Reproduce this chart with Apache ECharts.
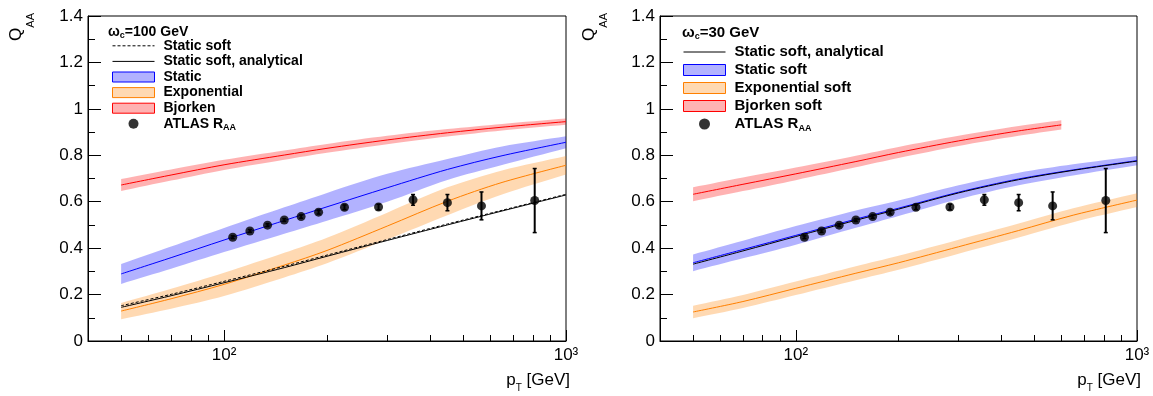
<!DOCTYPE html>
<html><head><meta charset="utf-8">
<script src="https://cdn.jsdelivr.net/npm/echarts@6/dist/echarts.min.js"></script>
<style>html,body{margin:0;padding:0;background:#fff}#c{width:1153px;height:396px}</style>
</head><body><div id="c"></div>
<script>
// ---------- data ----------
const ptGrid = [50, 70, 100, 150, 200, 300, 450, 650, 1000];
const ptGridBjSoft = [50, 70, 100, 150, 200, 300, 450, 600];

// left panel: omega_c = 100 GeV
const leftBjorkenMid = [0.672, 0.715, 0.759, 0.801, 0.830, 0.866, 0.897, 0.921, 0.945];
const leftBjorkenLo  = [0.646, 0.691, 0.737, 0.781, 0.811, 0.848, 0.881, 0.907, 0.932];
const leftBjorkenHi  = [0.698, 0.739, 0.781, 0.821, 0.849, 0.884, 0.913, 0.935, 0.958];
const leftStaticMid  = [0.289, 0.359, 0.435, 0.519, 0.578, 0.660, 0.739, 0.798, 0.856];
const leftStaticLo   = [0.246, 0.311, 0.383, 0.462, 0.518, 0.600, 0.694, 0.758, 0.830];
const leftStaticHi   = [0.332, 0.407, 0.487, 0.576, 0.638, 0.720, 0.784, 0.838, 0.882];
const leftExpMid     = [0.129, 0.182, 0.244, 0.327, 0.390, 0.495, 0.602, 0.683, 0.757];
const leftExpLo      = [0.094, 0.139, 0.194, 0.274, 0.335, 0.437, 0.542, 0.631, 0.717];
const leftExpHi      = [0.164, 0.225, 0.294, 0.380, 0.445, 0.553, 0.662, 0.735, 0.797];
const leftStaticSoft = [0.152, 0.201, 0.257, 0.322, 0.370, 0.437, 0.504, 0.563, 0.632];
const leftStaticSoftAnalytical = [0.145, 0.195, 0.251, 0.316, 0.365, 0.433, 0.500, 0.560, 0.629];

// right panel: omega_c = 30 GeV
const rightBjorkenMid = [0.632, 0.675, 0.720, 0.773, 0.812, 0.862, 0.905, 0.931];
const rightBjorkenLo  = [0.602, 0.646, 0.693, 0.748, 0.788, 0.840, 0.884, 0.911];
const rightBjorkenHi  = [0.662, 0.704, 0.747, 0.798, 0.836, 0.884, 0.926, 0.951];
const rightStaticMid  = [0.337, 0.394, 0.455, 0.525, 0.572, 0.641, 0.698, 0.737, 0.777];
const rightStaticLo   = [0.301, 0.356, 0.415, 0.488, 0.539, 0.611, 0.671, 0.713, 0.757];
const rightStaticHi   = [0.373, 0.432, 0.495, 0.562, 0.605, 0.671, 0.725, 0.761, 0.797];
const rightExpMid     = [0.125, 0.170, 0.227, 0.292, 0.337, 0.406, 0.476, 0.542, 0.607];
const rightExpLo      = [0.098, 0.142, 0.198, 0.262, 0.307, 0.376, 0.446, 0.512, 0.577];
const rightExpHi      = [0.152, 0.198, 0.256, 0.322, 0.367, 0.436, 0.506, 0.572, 0.637];
const rightStaticSoftAnalytical = [0.331, 0.388, 0.450, 0.520, 0.568, 0.638, 0.695, 0.735, 0.775];

// ATLAS R_AA
const atlasPt  = [106, 119, 134, 150, 168, 189, 225, 283, 357, 450, 566, 810];
const atlasRaa = [0.447, 0.474, 0.499, 0.521, 0.536, 0.555, 0.576, 0.577, 0.608, 0.596, 0.582, 0.605];
const atlasErr = [0.006, 0.006, 0.006, 0.006, 0.007, 0.008, 0.010, 0.012, 0.023, 0.035, 0.060, 0.138];

// axes
const xMajorTicks = [100, 1000];
const xMajorLabels = ['10²', '10³'];
const xMinorTicks = [50, 60, 70, 80, 90, 200, 300, 400, 500, 600, 700, 800, 900];

// ---------- styles ----------
const FONT = 'Liberation Sans, Arial, Helvetica, sans-serif';
const BLUE = '#0000ff', BLUE_F = 'rgba(0,0,255,0.3)';
const ORANGE = '#ff8000', ORANGE_F = 'rgba(255,128,0,0.3)';
const RED = '#ff0000', RED_F = 'rgba(255,0,0,0.3)';
const SMOOTH = 0.3;

const pairs = (xs, ys) => xs.map((x, i) => [x, ys[i]]);

// filled uncertainty band: one polygon through the axis scales
function band(name, xs, lo, hi, fill, xi, yi) {
  return { type: 'custom', name: name, xAxisIndex: xi, yAxisIndex: yi, silent: true, z: 1,
    data: xs.map((x, i) => [x, lo[i], hi[i]]),
    encode: { x: 0, y: [1, 2] },
    itemStyle: { color: fill },
    renderItem: (params, api) => {
      if (params.dataIndexInside !== 0) return null;
      const n = params.dataInsideLength;
      const up = [], dn = [];
      for (let i = 0; i < n; i++) {
        up.push(api.coord([api.value(0, i), api.value(2, i)]));
        dn.push(api.coord([api.value(0, i), api.value(1, i)]));
      }
      dn.reverse();
      // duplicate the corner points so the band ends stay straight cuts
      const pts = [up[0]].concat(up, [up[n - 1]], [dn[0]], dn, [dn[n - 1]]);
      return { type: 'polygon', shape: { points: pts, smooth: SMOOTH }, style: { fill: fill, stroke: null } };
    } };
}
function curve(name, xs, ys, color, xi, yi, dashed, z) {
  return { type: 'line', name: name, xAxisIndex: xi, yAxisIndex: yi, data: pairs(xs, ys),
    symbol: 'none', smooth: SMOOTH, itemStyle: { color: color },
    lineStyle: { color: color, width: 1, type: dashed ? [3, 2] : 'solid' }, silent: true, z: z || 2 };
}
function atlas(name, xi, yi) {
  return [
    { type: 'custom', name: name + '__err', xAxisIndex: xi, yAxisIndex: yi, silent: true, z: 4,
      data: atlasPt.map((x, i) => [x, atlasRaa[i] - atlasErr[i], atlasRaa[i] + atlasErr[i]]),
      encode: { x: 0, y: [1, 2] },
      renderItem: (params, api) => {
        const a = api.coord([api.value(0), api.value(1)]);
        const b = api.coord([api.value(0), api.value(2)]);
        const c = 2;
        return { type: 'group', children: [
          { type: 'line', shape: { x1: a[0], y1: a[1], x2: b[0], y2: b[1] }, style: { stroke: '#000', lineWidth: 2 } },
          { type: 'line', shape: { x1: a[0] - c, y1: a[1], x2: a[0] + c, y2: a[1] }, style: { stroke: '#000', lineWidth: 1.5 } },
          { type: 'line', shape: { x1: b[0] - c, y1: b[1], x2: b[0] + c, y2: b[1] }, style: { stroke: '#000', lineWidth: 1.5 } }
        ] };
      } },
    { type: 'scatter', name: name, xAxisIndex: xi, yAxisIndex: yi, data: pairs(atlasPt, atlasRaa),
      symbol: 'circle', symbolSize: 9, itemStyle: { color: '#000' }, silent: true, z: 5 }
  ];
}

function xAxes(g) {
  return [
    { type: 'log', logBase: 10, gridIndex: g, min: 40, max: 1000,
      axisLine: { show: true, onZero: false, lineStyle: { color: '#000', width: 1 } },
      axisTick: { show: true, inside: true, length: 11, customValues: xMajorTicks, lineStyle: { color: '#000', width: 1 } },
      minorTick: { show: false }, splitLine: { show: false }, minorSplitLine: { show: false },
      axisLabel: { show: true, customValues: xMajorTicks, margin: 6, fontSize: 17, fontFamily: FONT, color: '#000',
        formatter: v => { let k = 0, best = Infinity; xMajorTicks.forEach((t, i) => { const d = Math.abs(Math.log10(t) - Math.log10(v)); if (d < best) { best = d; k = i; } }); return xMajorLabels[k]; } } },
    { type: 'log', logBase: 10, gridIndex: g, min: 40, max: 1000, position: 'bottom',
      axisLine: { show: false, onZero: false },
      axisTick: { show: true, inside: true, length: 6, customValues: xMinorTicks, lineStyle: { color: '#000', width: 1 } },
      minorTick: { show: false }, splitLine: { show: false }, axisLabel: { show: false } }
  ];
}
function yAxis(g) {
  return { type: 'value', gridIndex: g, min: 0, max: 1.4, interval: 0.2,
    axisLine: { show: true, onZero: false, lineStyle: { color: '#000', width: 1 } },
    axisTick: { show: true, inside: true, length: 13, lineStyle: { color: '#000', width: 1 } },
    minorTick: { show: true, splitNumber: 2, length: 7, lineStyle: { color: '#000', width: 1 } },
    splitLine: { show: false }, minorSplitLine: { show: false },
    axisLabel: { show: true, margin: 5, fontSize: 17, fontFamily: FONT, color: '#000' } };
}

const legendFmt = n => {
  n = n.replace(' (R)', '');
  if (n === 'ATLAS R_AA') return 'ATLAS R{s|AA}';
  return n;
};
function legend(left, top, fs, lh, ih, items) {
  return { show: true, orient: 'vertical', left: left, top: top, padding: 0, itemGap: 0,
    itemWidth: 42, itemHeight: ih, selectedMode: false, formatter: legendFmt,
    textStyle: { fontFamily: FONT, fontWeight: 'bold', fontSize: fs, color: '#000', lineHeight: lh,
      padding: [0, 0, 0, 4],
      rich: { s: { fontFamily: FONT, fontWeight: 'bold', fontSize: Math.round(fs * 0.62), color: '#000', padding: [Math.round(fs * 0.6), 0, 0, 0] } } },
    data: items };
}
const boxItem = (name, fill, stroke) => ({ name: name, icon: 'rect', itemStyle: { color: fill, borderColor: stroke, borderWidth: 1 } });
const lineItem = (name, dashed) => ({ name: name,
  itemStyle: { color: 'rgba(0,0,0,0)', borderWidth: 0, opacity: 0 },
  lineStyle: { color: '#000', width: 1, type: dashed ? [3, 2] : 'solid', opacity: 1 } });

const series = [].concat(
  [band('Bjorken', ptGrid, leftBjorkenLo, leftBjorkenHi, RED_F, 0, 0),
   band('Static', ptGrid, leftStaticLo, leftStaticHi, BLUE_F, 0, 0),
   band('Exponential', ptGrid, leftExpLo, leftExpHi, ORANGE_F, 0, 0),
   curve('Bjorken line', ptGrid, leftBjorkenMid, RED, 0, 0),
   curve('Static line', ptGrid, leftStaticMid, BLUE, 0, 0),
   curve('Exponential line', ptGrid, leftExpMid, ORANGE, 0, 0),
   curve('Static soft', ptGrid, leftStaticSoft, '#000', 0, 0, true, 3),
   curve('Static soft, analytical', ptGrid, leftStaticSoftAnalytical, '#000', 0, 0, false, 3)],
  atlas('ATLAS R_AA', 0, 0),

  [band('Bjorken soft', ptGridBjSoft, rightBjorkenLo, rightBjorkenHi, RED_F, 2, 1),
   band('Static soft (R)', ptGrid, rightStaticLo, rightStaticHi, BLUE_F, 2, 1),
   band('Exponential soft', ptGrid, rightExpLo, rightExpHi, ORANGE_F, 2, 1),
   curve('Bjorken soft line', ptGridBjSoft, rightBjorkenMid, RED, 2, 1),
   curve('Static soft line (R)', ptGrid, rightStaticMid, BLUE, 2, 1),
   curve('Exponential soft line', ptGrid, rightExpMid, ORANGE, 2, 1),
   curve('Static soft, analytical (R)', ptGrid, rightStaticSoftAnalytical, '#000', 2, 1, false, 3)],
  atlas('ATLAS R_AA (R)', 2, 1)
);

const gridBase = { show: true, borderColor: '#000', borderWidth: 1, backgroundColor: 'transparent', containLabel: false, outerBoundsMode: 'none' };

const titleRich = fs => ({ c: { fontFamily: FONT, fontWeight: 'bold', fontSize: Math.round(fs * 0.62), color: '#000', padding: [Math.round(fs * 0.45), 0, 0, 0] } });

const axisTitle = (x, y, rot, text, rich, align) => ({ type: 'text', x: x, y: y, rotation: rot, silent: true,
  style: { text: text, align: align, verticalAlign: 'top', rich: rich } });
const qRich = { q: { fontFamily: FONT, fontSize: 17, fill: '#000', verticalAlign: 'top' },
                s: { fontFamily: FONT, fontSize: 11, fill: '#000', verticalAlign: 'top', padding: [17, 0, 0, 0] } };
const pRich = { p: { fontFamily: FONT, fontSize: 17, fill: '#000', verticalAlign: 'top' },
                s: { fontFamily: FONT, fontSize: 10, fill: '#000', verticalAlign: 'top', padding: [11, 0, 0, 0] } };

const option = {
  animation: false,
  backgroundColor: '#fff',
  grid: [
    Object.assign({ left: 88, top: 16, width: 478, height: 325 }, gridBase),
    Object.assign({ left: 660, top: 16, width: 477, height: 325 }, gridBase)
  ],
  xAxis: [].concat(xAxes(0), xAxes(1)),
  yAxis: [yAxis(0), yAxis(1)],
  title: [
    { text: 'ω{c|c}=100 GeV', left: 108, top: 25, padding: 0,
      textStyle: { fontFamily: FONT, fontWeight: 'bold', fontSize: 14, color: '#000', rich: titleRich(14) } },
    { text: 'ω{c|c}=30 GeV', left: 682, top: 25, padding: 0,
      textStyle: { fontFamily: FONT, fontWeight: 'bold', fontSize: 15, color: '#000', rich: titleRich(15) } }
  ],
  legend: [
    legend(112, 38, 14, 15.6, 10, [
      lineItem('Static soft', true),
      lineItem('Static soft, analytical', false),
      boxItem('Static', BLUE_F, BLUE),
      boxItem('Exponential', ORANGE_F, ORANGE),
      boxItem('Bjorken', RED_F, RED),
      { name: 'ATLAS R_AA', icon: 'circle' }
    ]),
    legend(683, 43, 15, 18, 11, [
      lineItem('Static soft, analytical (R)', false),
      boxItem('Static soft (R)', BLUE_F, BLUE),
      boxItem('Exponential soft', ORANGE_F, ORANGE),
      boxItem('Bjorken soft', RED_F, RED),
      { name: 'ATLAS R_AA (R)', icon: 'circle' }
    ])
  ],
  graphic: [
    axisTitle(8, 13, Math.PI / 2, '{q|Q}{s|AA}', qRich, 'right'),
    axisTitle(581, 13, Math.PI / 2, '{q|Q}{s|AA}', qRich, 'right'),
    axisTitle(570, 372, 0, '{p|p}{s|T}{p| [GeV]}', pRich, 'right'),
    axisTitle(1141, 372, 0, '{p|p}{s|T}{p| [GeV]}', pRich, 'right')
  ],
  series: series
};

const chart = echarts.init(document.getElementById('c'), null, { renderer: 'canvas' });
chart.setOption(option);
</script>
</body></html>
